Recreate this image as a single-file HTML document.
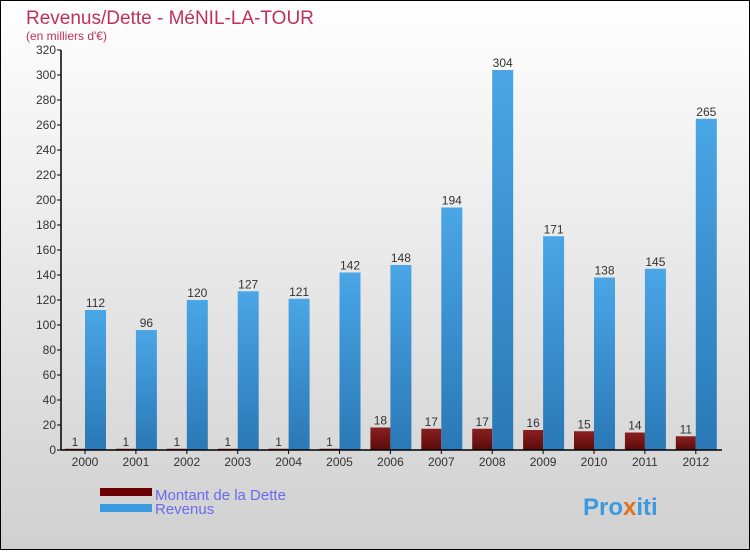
<!DOCTYPE html>
<html><head><meta charset="utf-8"><style>
body{margin:0;}
#c{width:750px;height:550px;position:relative;font-family:"Liberation Sans",sans-serif;}
</style></head><body>
<div id="c">
<svg width="750" height="550" id="svg">
<defs>
<linearGradient id="bg" x1="0" y1="0" x2="0" y2="1"><stop offset="0" stop-color="#ffffff"/><stop offset="1" stop-color="#d0d0d0"/></linearGradient>
<linearGradient id="rev" x1="0" y1="0" x2="0" y2="1"><stop offset="0" stop-color="#4aa6e6"/><stop offset="1" stop-color="#2a78b6"/></linearGradient>
<linearGradient id="debt" x1="0" y1="0" x2="0" y2="1"><stop offset="0" stop-color="#8a2020"/><stop offset="1" stop-color="#5a0a0a"/></linearGradient>
</defs>
<rect x="0.5" y="0.5" width="749" height="549" fill="url(#bg)" stroke="#000"/>
<text x="26" y="24" font-size="19" fill="#c0305a">Revenus/Dette - MéNIL-LA-TOUR</text>
<text x="26" y="40" font-size="12" fill="#c0305a">(en milliers d'€)</text>
<g id="plot"></g>
<rect x="100" y="488" width="52" height="8" fill="#6a0000"/>
<text x="155" y="500" font-size="15" fill="#6a6af0">Montant de la Dette</text>
<rect x="100" y="504" width="52" height="8" fill="#3a9ae0"/>
<text x="155" y="514" font-size="15" fill="#6a6af0">Revenus</text>
<text x="583" y="515" font-size="24" font-weight="bold" fill="#3a9ae0"><tspan fill="#3a9ae0">Pro</tspan><tspan fill="#e07020">x</tspan><tspan fill="#3a9ae0">iti</tspan></text>
</svg>
</div>
<script>
const years=["2000","2001","2002","2003","2004","2005","2006","2007","2008","2009","2010","2011","2012"];
const debt=[1,1,1,1,1,1,18,17,17,16,15,14,11];
const revenue=[112,96,120,127,121,142,148,194,304,171,138,145,265];
const yTicks=[0,20,40,60,80,100,120,140,160,180,200,220,240,260,280,300,320];
const NS="http://www.w3.org/2000/svg";
const g=document.getElementById('plot');
const y0=450,yTop=50,yMax=320,x0=61,xEnd=722;
function y(v){return y0-(v/yMax)*(y0-yTop);}
function xc(i){return 85+i*50.9;}
function el(t,a){const e=document.createElementNS(NS,t);for(const k in a)e.setAttribute(k,a[k]);g.appendChild(e);return e;}
yTicks.forEach(v=>{
 const t=el('line',{x1:x0-4,x2:x0,y1:y(v),y2:y(v),stroke:'#000'});
 
 
 const l=el('text',{x:x0-5,y:y(v)+4,'font-size':12,'text-anchor':'end',fill:'#333'});
 l.textContent=v;
 
 
});
years.forEach((yr,i)=>{
 const c=xc(i);
 const d=el('rect',{x:c-20,y:y(debt[i]),width:20,height:y0-y(debt[i]),fill:'url(#debt)'});
 
 
 const r=el('rect',{x:c,y:y(revenue[i]),width:21,height:y0-y(revenue[i]),fill:'url(#rev)'});
 
 
 const dl=el('text',{x:c-10,y:y(debt[i])-3,'font-size':12,'text-anchor':'middle',fill:'#333'});
 dl.textContent=debt[i];
 
 
 const rl=el('text',{x:c+10.5,y:y(revenue[i])-3,'font-size':12,'text-anchor':'middle',fill:'#333'});
 rl.textContent=revenue[i];
 
 
 const tk=el('line',{x1:c,x2:c,y1:y0,y2:y0+4,stroke:'#000'});
 
 
 const xl=el('text',{x:c,y:y0+16,'font-size':12,'text-anchor':'middle',fill:'#333'});
 xl.textContent=yr;
 
 
});
const ya=el('line',{x1:x0,x2:x0,y1:yTop,y2:y0,stroke:'#000','stroke-width':1.5});


const xa=el('line',{x1:x0,x2:xEnd,y1:y0,y2:y0,stroke:'#000','stroke-width':1.5});


</script>
</body></html>
